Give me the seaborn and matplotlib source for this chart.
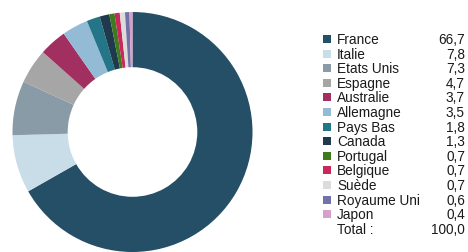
import matplotlib
matplotlib.use("Agg")
import matplotlib.pyplot as plt
import seaborn as sns
from matplotlib.patches import Rectangle

pays = ['France', 'Italie', 'Etats Unis', 'Espagne', 'Australie', 'Allemagne', 'Pays Bas',
        'Canada', 'Portugal', 'Belgique', 'Suède', 'Royaume Uni', 'Japon']
parts = [66.7, 7.8, 7.3, 4.7, 3.7, 3.5, 1.8, 1.3, 0.7, 0.7, 0.7, 0.6, 0.4]
libelles = ['66,7', '7,8', '7,3', '4,7', '3,7', '3,5', '1,8', '1,3', '0,7', '0,7', '0,7', '0,6', '0,4']
total_label = '100,0'

couleurs = ['#244f66', '#c9dde9', '#8a9ba8', '#a6a6a6', '#a12f60', '#93bbd6', '#247588',
            '#1e3a4c', '#3f7a1f', '#c8285a', '#dcdcdc', '#7272a8', '#d7a0c8']

sns.set_style('white')
plt.rcParams['font.family'] = ['Liberation Sans', 'DejaVu Sans']

W, H = 468, 253
fig = plt.figure(figsize=(W / 100, H / 100), dpi=100)

# donut
ax = fig.add_axes([12.5 / W, 1 - 253 / H, 240 / W, 240 / H])
ax.pie(parts, colors=couleurs, startangle=90, counterclock=False,
       wedgeprops=dict(width=0.46, linewidth=0))
ax.set_xlim(-1, 1)
ax.set_ylim(-1, 1)
ax.set_aspect('equal')
ax.axis('off')

# legend drawn in pixel coordinates
lg = fig.add_axes([0, 0, 1, 1])
lg.set_xlim(0, W)
lg.set_ylim(H, 0)
lg.axis('off')
y0, dy = 40, 14.6
fs = 9.8
for i, (p, v, c) in enumerate(zip(pays, libelles, couleurs)):
    y = y0 + i * dy
    lg.add_patch(Rectangle((323, y - 4), 8, 8, facecolor=c, edgecolor='none'))
    lg.text(337, y, p, va='center', ha='left', fontsize=fs, color='#1a1a1a')
    lg.text(465, y, v, va='center', ha='right', fontsize=fs, color='#1a1a1a')
y = y0 + len(pays) * dy
lg.text(337, y, 'Total :', va='center', ha='left', fontsize=fs, color='#1a1a1a')
lg.text(465, y, total_label, va='center', ha='right', fontsize=fs, color='#1a1a1a')

fig.savefig('out.png', dpi=100, facecolor='white')
